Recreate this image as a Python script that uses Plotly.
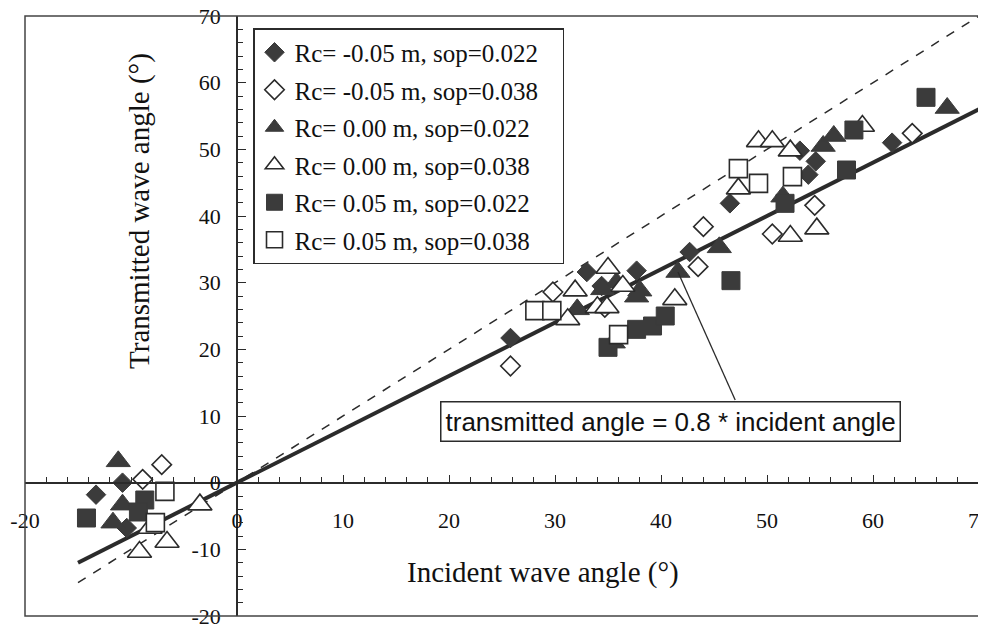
import plotly.graph_objects as go

# ---------------- data ----------------
S1_NAME = "Rc= -0.05 m, sop=0.022"
S1_X = [-10.8, -13.3, -10.4, 25.8, 33.0, 34.4, 37.7, 42.7, 46.5, 53.1, 53.9, 54.6, 61.8]
S1_Y = [0.0, -1.8, -6.8, 21.7, 31.6, 29.5, 31.8, 34.6, 41.9, 49.8, 46.2, 48.2, 51.0]

S2_NAME = "Rc= -0.05 m, sop=0.038"
S2_X = [-7.1, -8.9, 25.8, 29.8, 34.7, 43.5, 44.0, 50.5, 54.5, 63.7]
S2_Y = [2.7, 0.5, 17.5, 28.6, 26.3, 32.4, 38.4, 37.3, 41.6, 52.4]

S3_NAME = "Rc= 0.00 m, sop=0.022"
S3_X = [-11.2, -10.8, -11.7, 32.1, 35.8, 34.5, 37.7, 38.0, 35.5, 41.6, 45.5, 51.5, 55.3, 56.3, 67.0]
S3_Y = [3.2, -3.3, -6.0, 26.0, 30.0, 29.0, 27.9, 28.8, 21.0, 31.6, 35.3, 42.9, 50.5, 52.0, 56.2]

S4_NAME = "Rc= 0.00 m, sop=0.038"
S4_X = [-9.2, -6.6, -3.5, -8.2, 31.2, 31.9, 35.0, 34.0, 34.9, 36.4, 41.3, 47.3, 49.2, 50.5, 52.2, 52.2, 54.7, 59.0]
S4_Y = [-10.4, -8.9, -3.3, -6.8, 24.5, 28.8, 32.2, 26.3, 26.3, 29.5, 27.5, 44.1, 51.2, 51.2, 49.8, 37.0, 38.1, 53.5]

S5_NAME = "Rc= 0.05 m, sop=0.022"
S5_X = [-14.2, -8.7, -9.3, 35.0, 37.7, 39.2, 40.4, 46.6, 51.7, 57.5, 58.2, 65.0]
S5_Y = [-5.3, -2.6, -4.4, 20.3, 23.0, 23.5, 25.0, 30.3, 41.9, 46.9, 52.9, 57.8]

S6_NAME = "Rc= 0.05 m, sop=0.038"
S6_X = [-6.8, -7.7, 28.1, 29.7, 36.0, 47.3, 49.2, 52.4]
S6_Y = [-1.3, -6.0, 25.8, 25.8, 22.2, 47.1, 44.9, 45.9]

FIT_X = [-15, 70]          # transmitted = 0.8 * incident
FIT_Y = [-12, 56]
EQ_X = [-15, 70]           # transmitted = incident
EQ_Y = [-15, 70]

X_TICKS = [-20, 0, 10, 20, 30, 40, 50, 60, 70]
Y_TICKS = [-20, -10, 0, 10, 20, 30, 40, 50, 60, 70]

ANNOT_TEXT = "transmitted angle = 0.8 * incident angle"
ANNOT_POINT = (41.6, 31.6)

# ---------------- styling ----------------
DARK = "#3b3b3b"
LINE = "#2b2b2b"
SERIF = "Liberation Serif, Times New Roman, serif"
SANS = "Liberation Sans, Arial, sans-serif"
PAD = "\u00a0\u00a0\u00a0"

fig = go.Figure()

# reference lines (behind markers)
fig.add_trace(go.Scatter(x=EQ_X, y=EQ_Y, mode="lines", showlegend=False,
                         line=dict(color=LINE, width=1.5, dash="dash"), hoverinfo="skip"))
fig.add_trace(go.Scatter(x=FIT_X, y=FIT_Y, mode="lines", showlegend=False,
                         line=dict(color=LINE, width=4), hoverinfo="skip"))

series = [
    (S1_NAME, S1_X, S1_Y, "diamond", 15, True),
    (S2_NAME, S2_X, S2_Y, "diamond", 15, False),
    (S3_NAME, S3_X, S3_Y, "triangle-up", 21, True),
    (S4_NAME, S4_X, S4_Y, "triangle-up", 21, False),
    (S5_NAME, S5_X, S5_Y, "square", 18, True),
    (S6_NAME, S6_X, S6_Y, "square", 18, False),
]
for i, (name, xs, ys, sym, size, filled) in enumerate(series):
    fig.add_trace(go.Scatter(
        x=xs, y=ys, mode="markers", name=name + PAD, legendgroup=f"g{i}",
        marker=dict(symbol=sym, size=size,
                    color=DARK if filled else "white",
                    line=dict(color=DARK if filled else LINE, width=1 if filled else 1.6)),
    ))

# leader line for the annotation
fig.add_shape(type="line", xref="x", yref="y",
              x0=47.0, y0=12.4, x1=ANNOT_POINT[0], y1=ANNOT_POINT[1],
              line=dict(color=LINE, width=1.3), layer="above")

fig.add_annotation(x=40.85, y=9.2, xref="x", yref="y", text=ANNOT_TEXT,
                   showarrow=False, xanchor="center", yanchor="middle",
                   font=dict(family=SANS, size=26, color="#111"),
                   bgcolor="white", bordercolor=LINE, borderwidth=1.5, borderpad=4)

# axis titles
fig.add_annotation(x=0.1205, y=0.675, xref="paper", yref="paper",
                   xanchor="center", yanchor="middle",
                   text="Transmitted wave angle (°)", textangle=-90, showarrow=False,
                   font=dict(family=SERIF, size=29, color="#111"))
fig.add_annotation(x=0.543, y=0.0717, xref="paper", yref="paper",
                   xanchor="center", yanchor="middle",
                   text="Incident wave angle (°)", showarrow=False,
                   font=dict(family=SERIF, size=29, color="#111"))

# frame
fig.add_shape(type="rect", xref="paper", yref="paper", x0=0, y0=0, x1=1, y1=1,
              line=dict(color="#444", width=1.5), layer="above")

fig.update_xaxes(range=[-20, 70], anchor="free", position=20 / 90,
                 showgrid=False, zeroline=False, showline=True, linecolor=LINE, linewidth=1.5,
                 tickmode="array", tickvals=X_TICKS, ticktext=[str(v) for v in X_TICKS],
                 ticks="inside", ticklen=7, tickcolor=LINE, tickwidth=1.2,
                 minor=dict(dtick=2, ticks="inside", ticklen=5, tickcolor=LINE, tickwidth=1),
                 tickfont=dict(family=SERIF, size=22, color="#111"),
                 ticklabelstandoff=18, ticklabeloverflow="allow", automargin=False)
fig.update_yaxes(range=[-20, 70], anchor="free", position=20 / 90,
                 showgrid=False, zeroline=False, showline=True, linecolor=LINE, linewidth=1.5,
                 tickmode="array", tickvals=Y_TICKS, ticktext=[str(v) for v in Y_TICKS],
                 ticks="inside", ticklen=8, tickcolor=LINE, tickwidth=1.2,
                 minor=dict(dtick=2, ticks="inside", ticklen=5, tickcolor=LINE, tickwidth=1),
                 tickfont=dict(family=SERIF, size=22, color="#111"),
                 ticklabelstandoff=11, ticklabeloverflow="allow", automargin=False)

# page body has an 8px default margin, so the figure is shrunk by 8px and offset accordingly
fig.update_layout(
    width=978, height=618,
    margin=dict(l=17, r=7, t=8, b=10),
    paper_bgcolor="white", plot_bgcolor="white",
    showlegend=True,
    legend=dict(x=0.239, y=0.98, xanchor="left", yanchor="top",
                bgcolor="white", bordercolor=LINE, borderwidth=1.5,
                font=dict(family=SERIF, size=25, color="#111"),
                traceorder="grouped", tracegroupgap=2),
)

fig.write_html("out.html")
